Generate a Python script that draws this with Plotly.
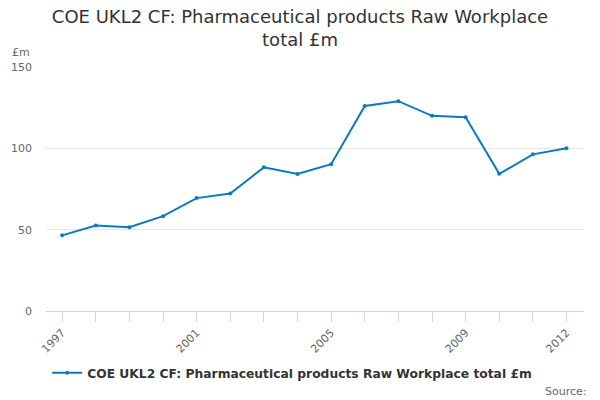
import plotly.graph_objects as go

years = [1997, 1998, 1999, 2000, 2001, 2002, 2003, 2004, 2005, 2006, 2007, 2008, 2009, 2010, 2011, 2012]
values = [46.5, 52.5, 51.5, 58.3, 69.4, 72.2, 88.3, 84.2, 90.2, 126.0, 129.0, 120.0, 119.1, 84.3, 96.3, 100.0]
tick_years = [1997, 2001, 2005, 2009, 2012]
series_name = "COE UKL2 CF: Pharmaceutical products Raw Workplace total £m"
title_text = "COE UKL2 CF: Pharmaceutical products Raw Workplace<br>total £m"

FONT = "DejaVu Sans, Verdana, sans-serif"
fig = go.Figure()
fig.add_trace(go.Scatter(
    x=years, y=values, mode="lines+markers", name=series_name,
    line=dict(color="#0b7bc1", width=2),
    marker=dict(color="#0b7bc1", size=4),
))
fig.update_layout(
    width=600, height=400,
    paper_bgcolor="white", plot_bgcolor="white",
    margin=dict(l=46, r=16, t=67, b=89, autoexpand=False),
    font=dict(family=FONT, color="#666666", size=11),
    title=dict(text=title_text, x=0.5, xanchor="center", y=0.9425, yanchor="top",
               font=dict(family=FONT, size=18, color="#333333")),
    showlegend=True,
    legend=dict(orientation="h", xref="container", x=0.487, xanchor="center", yref="container", y=0.068, yanchor="middle",
                font=dict(family=FONT, size=12.3, color="#333333", weight="bold")),
    xaxis=dict(range=[1996.52, 2012.52], tickmode="array", tickvals=tick_years,
               ticktext=[str(t) for t in tick_years], tickangle=-45, automargin=False,
               showgrid=False, zeroline=False, showline=True, linecolor="#ccd6eb",
               ticks="outside", ticklen=10, tickcolor="#ccd6eb",
               minor=dict(dtick=1, tick0=1997, ticks="outside", ticklen=10, tickcolor="#ccd6eb", showgrid=False),
               tickfont=dict(size=11, color="#666666")),
    yaxis=dict(range=[0, 150], tickvals=[0, 50, 100, 150], showgrid=True, gridcolor="#e6e6e6",
               zeroline=False, showline=False, ticks="", ticklabelstandoff=13, automargin=False,
               tickfont=dict(size=11, color="#666666")),
)
fig.add_annotation(text="£m", xref="paper", yref="paper", x=-0.066, y=1.025, xanchor="left", yanchor="bottom",
                   showarrow=False, font=dict(family=FONT, size=11, color="#666666"))
fig.add_annotation(text="Source:", xref="paper", yref="paper", x=1.01, y=-0.328, xanchor="right", yanchor="middle",
                   showarrow=False, font=dict(family=FONT, size=11, color="#666666"))
fig.write_html("out.html", config={"displayModeBar": False},
               post_script="document.body.style.margin='0';")
